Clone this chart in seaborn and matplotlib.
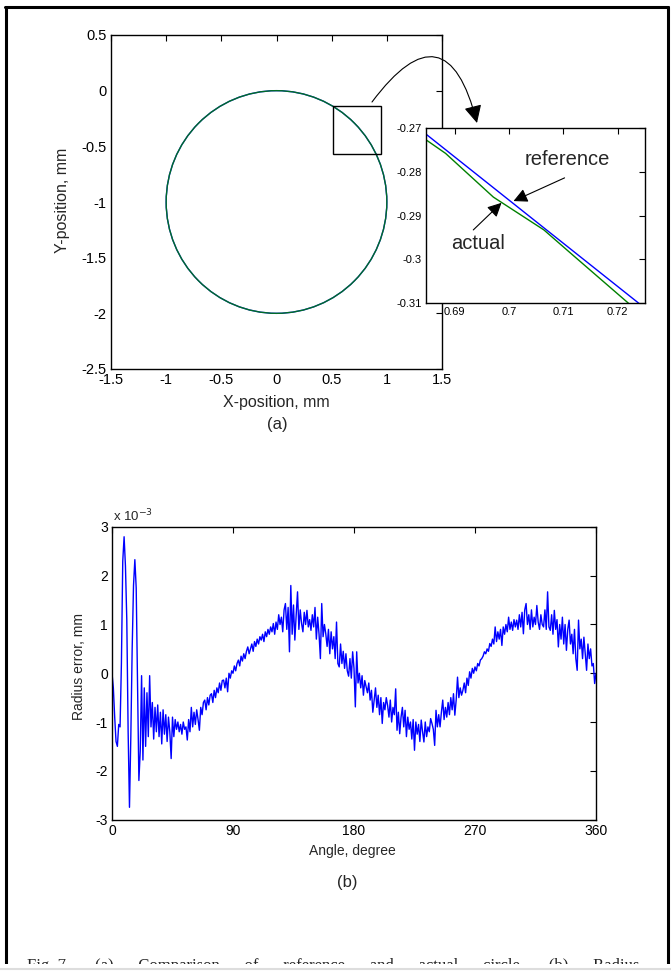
import numpy as np
import pandas as pd
import matplotlib.pyplot as plt
import seaborn as sns
from matplotlib.patches import Circle, Rectangle
from matplotlib.ticker import FuncFormatter

sns.set_style('white')
plt.rcParams['font.family'] = ['Liberation Sans', 'DejaVu Sans']
plt.rcParams['axes.unicode_minus'] = False

# --- data ---
# (a) circle path, mm
circle_center = (0.0, -1.0)
circle_radius = 1.0
zoom_box = (0.515, -0.566, 0.435, 0.428)   # x, y, width, height

# zoomed detail of (a)
ref_x = [0.6847, 0.7239]
ref_y = [-0.2714, -0.3101]
act_x = [0.6847, 0.6883, 0.6971, 0.7064, 0.7113, 0.7220]
act_y = [-0.2727, -0.2758, -0.2858, -0.2933, -0.2986, -0.3101]

# (b) radius error, x 1e-3 mm, one value per degree 0..360
radius_err = [
    0.0, -0.3, -0.9, -1.4, -1.5, -1.05, -1.1, 0.2, 2.3, 2.8,
    2.2, 1.1, -1.2, -2.75, -1.3, 0.5, 1.8, 2.33, 1.75, -0.3,
    -2.2, -1.6, -0.05, -1.78, -0.3, -1.5, -0.4, -1.3, -0.05, -1.1,
    -0.6, -1.35, -0.7, -1.2, -0.65, -1.3, -0.8, -1.45, -0.75, -1.25,
    -0.85, -1.4, -0.9, -1.2, -1.75, -0.9, -1.3, -0.95, -1.15, -1.0,
    -1.2, -1.05, -1.25, -1.0, -1.15, -1.1, -1.37, -0.95, -1.2, -0.7,
    -1.1, -0.8, -1.05, -0.75, -0.95, -1.17, -0.7, -0.85, -0.6, -0.55,
    -0.75, -0.5, -0.65, -0.45, -0.42, -0.6, -0.35, -0.5, -0.3, -0.4,
    -0.2, -0.35, -0.15, -0.14, -0.3, -0.1, -0.38, 0.0, -0.1, 0.05,
    0.0, 0.15, 0.05, 0.2, 0.27, 0.15, 0.35, 0.25, 0.4, 0.3,
    0.45, 0.54, 0.4, 0.5, 0.6, 0.45, 0.65, 0.55, 0.7, 0.6,
    0.75, 0.68, 0.8, 0.65, 0.85, 0.75, 0.9, 0.8, 0.95, 0.85,
    1.02, 0.8, 1.05, 0.9, 1.2, 1.0, 1.15, 0.85, 1.3, 1.43,
    0.9, 1.35, 0.44, 1.8, 0.8, 1.4, 0.68, 1.2, 1.67, 0.9,
    1.3, 1.02, 0.85, 1.25, 1.0, 1.29, 0.95, 1.1, 0.88, 1.2,
    0.95, 1.35, 0.7, 1.15, 0.8, 0.3, 1.43, 0.75, 1.0, 0.81,
    0.55, 0.9, 0.4, 0.85, 0.5, 0.75, 0.3, 1.05, 0.2, 0.13,
    0.6, 0.2, 0.45, 0.1, 0.4, 0.05, -0.06, 0.3, -0.1, 0.44,
    0.1, -0.69, 0.44, -0.2, 0.0, -0.3, -0.05, -0.45, -0.15, -0.28,
    -0.4, -0.2, -0.55, -0.35, -0.8, -0.55, -0.3, -0.7, -0.45, -0.85,
    -0.5, -1.03, -0.6, -0.75, -0.5, -0.66, -0.9, -0.55, -1.0, -0.7,
    -0.85, -0.32, -1.17, -0.8, -1.24, -0.9, -0.7, -1.1, -0.76, -1.3,
    -0.9, -1.15, -1.0, -1.35, -0.95, -1.58, -1.0, -1.25, -1.05, -1.4,
    -0.96, -1.2, -1.41, -1.0, -1.3, -1.1, -1.2, -0.93, -1.03, -1.15,
    -1.48, -0.76, -1.1, -0.85, -1.1, -0.8, -0.55, -0.95, -0.7, -0.9,
    -0.6, -0.85, -0.5, -0.75, -0.42, -0.86, -0.55, -0.08, -0.5, -0.3,
    -0.45, -0.35, -0.2, -0.4, -0.1, -0.25, 0.03, -0.1, 0.1, 0.0,
    0.13, 0.05, 0.2, 0.15, 0.27, 0.3, 0.35, 0.44, 0.4, 0.5,
    0.45, 0.61, 0.55, 0.7, 0.6, 0.95, 0.65, 0.85, 0.7, 0.9,
    0.57, 0.95, 0.8, 1.0, 0.85, 1.15, 0.9, 1.05, 0.88, 1.1,
    0.95, 1.09, 0.9, 1.2, 0.95, 1.25, 0.81, 1.3, 1.43, 1.0,
    1.2, 0.9, 1.3, 0.95, 1.15, 1.0, 1.39, 1.05, 0.9, 1.2,
    1.0, 0.95, 1.3, 0.9, 1.67, 0.95, 0.88, 1.2, 0.8, 1.29,
    0.9, 1.1, 0.54, 1.0, 0.7, 1.15, 0.6, 1.0, 0.47, 0.9,
    1.09, 0.6, 0.8, 0.4, 0.9, 0.3, 0.06, 1.09, 0.5, 0.7,
    0.3, 0.74, 0.4, 0.06, 0.6, 0.3, 0.5, 0.15, 0.2, -0.21, 0.0,
]
angle_deg = np.linspace(0, 360, len(radius_err))

xy_ticks_x = [-1.5, -1, -0.5, 0, 0.5, 1, 1.5]
xy_ticks_y = [-2.5, -2, -1.5, -1, -0.5, 0, 0.5]
inset_ticks_x = [0.69, 0.70, 0.71, 0.72]
inset_ticks_y = [-0.31, -0.30, -0.29, -0.28, -0.27]
angle_ticks = [0, 90, 180, 270, 360]
err_ticks = [-3, -2, -1, 0, 1, 2, 3]

BLUE = '#0000ff'
GREEN = '#008000'

W, H = 671, 971
fig = plt.figure(figsize=(W / 100, H / 100), dpi=100)


def fx(px):
    return px / W


def fy(py):
    return 1 - py / H


def rect(x0, y0, x1, y1):
    return [fx(x0), fy(y1), fx(x1) - fx(x0), fy(y0) - fy(y1)]


fmt = FuncFormatter(lambda v, p: '%g' % round(v, 4))


def matlab_axes(ax, size):
    ax.tick_params(direction='in', top=True, right=True, length=4, width=0.8,
                   labelsize=size, colors='black', pad=3)
    for s in ax.spines.values():
        s.set_color('black')
        s.set_linewidth(1.0)
        s.set_visible(True)


# --- (a) circle ---
ax1 = fig.add_axes(rect(111, 35, 442, 369))
ax1.add_patch(Circle(circle_center, circle_radius, fill=False, ec=BLUE, lw=1.0))
ax1.add_patch(Circle(circle_center, circle_radius, fill=False, ec=GREEN, lw=1.0, alpha=0.85))
ax1.add_patch(Rectangle(zoom_box[:2], zoom_box[2], zoom_box[3], fill=False, ec='black', lw=1.0))
ax1.set_xlim(-1.5, 1.5)
ax1.set_ylim(-2.5, 0.5)
ax1.set_xticks(xy_ticks_x)
ax1.set_yticks(xy_ticks_y)
ax1.xaxis.set_major_formatter(fmt)
ax1.yaxis.set_major_formatter(fmt)
matlab_axes(ax1, 10.5)
fig.text(fx(276), fy(402), 'X-position, mm', ha='center', va='center', fontsize=11.5)
fig.text(fx(62), fy(200), 'Y-position, mm', ha='center', va='center', rotation=90, fontsize=11.5)
fig.text(fx(277), fy(424), '(a)', ha='center', va='center', fontsize=12)

# curved arrow from the box to the detail
ax1.annotate('', xy=(477, H - 123), xytext=(372, H - 102), xycoords='figure pixels',
             textcoords='figure pixels', annotation_clip=False,
             arrowprops=dict(arrowstyle='-|>,head_length=0.9,head_width=0.45',
                             connectionstyle='arc3,rad=-1.05', color='black',
                             lw=0.8, mutation_scale=12, shrinkA=0, shrinkB=0))

# --- zoomed detail ---
ax2 = fig.add_axes(rect(426, 128, 645, 303))
ax2.set_facecolor('white')
sns.lineplot(x=ref_x, y=ref_y, ax=ax2, color=BLUE, lw=1.0, sort=False)
sns.lineplot(x=act_x, y=act_y, ax=ax2, color=GREEN, lw=1.0, sort=False)
ax2.set_xlim(0.6847, 0.725)
ax2.set_ylim(-0.31, -0.27)
ax2.set_xticks(inset_ticks_x)
ax2.set_yticks(inset_ticks_y)
ax2.xaxis.set_major_formatter(fmt)
ax2.yaxis.set_major_formatter(fmt)
ax2.set_xlabel('')
ax2.set_ylabel('')
matlab_axes(ax2, 8)
arrow_kw = dict(arrowstyle='-|>,head_length=0.7,head_width=0.35', color='black',
                lw=0.8, mutation_scale=12, shrinkA=0, shrinkB=0)
ax2.annotate('', xy=(0.7008, -0.2867), xytext=(0.7102, -0.2814), arrowprops=arrow_kw)
ax2.annotate('', xy=(0.6986, -0.2871), xytext=(0.6934, -0.2933), arrowprops=arrow_kw)
ax2.text(0.7107, -0.2771, 'reference', ha='center', va='center', fontsize=14.5)
ax2.text(0.6942, -0.2963, 'actual', ha='center', va='center', fontsize=14.5)

# --- (b) radius error ---
ax3 = fig.add_axes(rect(112, 527, 596, 819.5))
err_df = pd.DataFrame({'angle': angle_deg, 'err': radius_err})
sns.lineplot(data=err_df, x='angle', y='err', ax=ax3, color=BLUE, lw=1.0)
ax3.set_xlim(0, 360)
ax3.set_ylim(-3, 3)
ax3.set_xticks(angle_ticks)
ax3.set_yticks(err_ticks)
ax3.set_xlabel('')
ax3.set_ylabel('')
matlab_axes(ax3, 10)
fig.text(fx(113), fy(521), 'x 10$^{-3}$', ha='left', va='baseline', fontsize=9.5)
fig.text(fx(352), fy(851), 'Angle, degree', ha='center', va='center', fontsize=10)
fig.text(fx(79), fy(667), 'Radius error, mm', ha='center', va='center', rotation=90, fontsize=10)
fig.text(fx(347), fy(882), '(b)', ha='center', va='center', fontsize=12)

# --- page frame and cut-off caption ---
fig.add_artist(plt.Line2D([fx(5.5), fx(5.5)], [fy(7), 0], transform=fig.transFigure, color='black', lw=2.2))
fig.add_artist(plt.Line2D([fx(4.5), fx(668)], [fy(7), fy(7)], transform=fig.transFigure, color='black', lw=2.2))
fig.add_artist(plt.Line2D([fx(668), fx(668)], [fy(7), 0], transform=fig.transFigure, color='black', lw=2.2))
gap = ' ' * 6
caption = gap.join(['Fig. 7.', '(a)', 'Comparison', 'of', 'reference', 'and',
                    'actual', 'circle,', '(b)', 'Radius'])
fig.text(fx(27), fy(958), caption, ha='left', va='top', fontsize=12,
         family=['Liberation Serif', 'DejaVu Serif'])
fig.add_artist(Rectangle((0, 0), 1, fy(964), transform=fig.transFigure, fc='white', ec='none', zorder=10))
fig.add_artist(plt.Line2D([0, 1], [fy(969), fy(969)], transform=fig.transFigure, color='#dddddd', lw=1.5, zorder=11))

fig.savefig('out.png', dpi=100)
